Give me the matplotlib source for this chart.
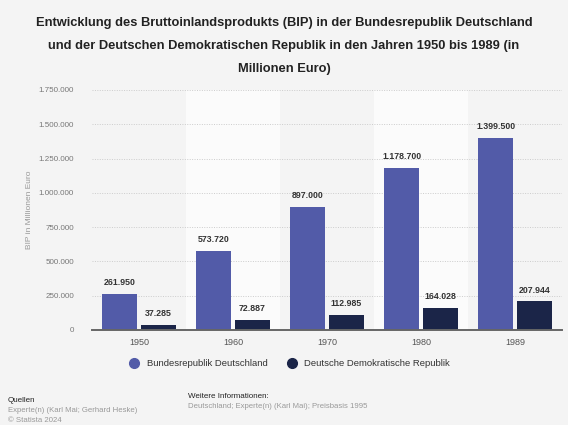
import matplotlib
matplotlib.use("Agg")
import matplotlib.pyplot as plt
from matplotlib.lines import Line2D
import numpy as np

years = ["1950", "1960", "1970", "1980", "1989"]
brd = [261950, 573720, 897000, 1178700, 1399500]
ddr = [37285, 72887, 112985, 164028, 207944]
series_names = ["Bundesrepublik Deutschland", "Deutsche Demokratische Republik"]
yticks = [0, 250000, 500000, 750000, 1000000, 1250000, 1500000, 1750000]

c_brd = "#525ba8"
c_ddr = "#1b2548"
bg = "#f4f4f4"

plt.rcParams["font.family"] = ["Liberation Sans", "DejaVu Sans"]


def de_fmt(v):
    return f"{v:,.0f}".replace(",", ".")


fig = plt.figure(figsize=(5.68, 4.25), dpi=100, facecolor=bg)
ax = fig.add_axes([92 / 568, 95 / 425, 470 / 568, 240 / 425])
ax.set_facecolor(bg)

x = np.arange(len(years))
w = 0.37
off = 0.205

# alternating column bands
for i in x:
    if i % 2 == 1:
        ax.axvspan(i - 0.5, i + 0.5, color="#fbfbfb", zorder=0, lw=0)

ax.bar(x - off, brd, width=w, color=c_brd, zorder=3)
ax.bar(x + off, ddr, width=w, color=c_ddr, zorder=3)

for xs, vals in ((x - off, brd), (x + off, ddr)):
    for xi, v in zip(xs, vals):
        ax.annotate(de_fmt(v), (xi, v), xytext=(0, 5), textcoords="offset points",
                    ha="center", va="bottom", fontsize=6.3, fontweight="bold",
                    color="#333333")

ax.set_xlim(-0.5, len(years) - 0.5)
ax.set_ylim(0, 1750000)
ax.set_yticks(yticks)
ax.set_yticklabels([de_fmt(t) for t in yticks], fontsize=5.8, color="#777777")
ax.set_xticks(x)
ax.set_xticklabels(years, fontsize=6.5, color="#555555")
ax.tick_params(axis="y", length=0, pad=13)
ax.tick_params(axis="x", length=0, pad=6)
ax.grid(axis="y", linestyle=(0, (1, 1.5)), color="#cccccc", lw=0.7, zorder=1)
for s in ["top", "right", "left"]:
    ax.spines[s].set_visible(False)
ax.spines["bottom"].set_color("#666666")
ax.spines["bottom"].set_linewidth(1.4)
ax.spines["bottom"].set_zorder(4)
ax.set_ylabel("BIP in Millionen Euro", fontsize=6, color="#999999")
ax.yaxis.set_label_coords((33 - 92) / 470, 0.5)

fig.text(0.5, 1 - 17 / 425,
         "Entwicklung des Bruttoinlandsprodukts (BIP) in der Bundesrepublik Deutschland\n"
         "und der Deutschen Demokratischen Republik in den Jahren 1950 bis 1989 (in\n"
         "Millionen Euro)",
         ha="center", va="top", fontsize=9.25, fontweight="bold", color="#222222",
         linespacing=2.2)

# legend
handles = [Line2D([], [], marker="o", ls="", markersize=7, color=c_brd),
           Line2D([], [], marker="o", ls="", markersize=7, color=c_ddr)]
fig.legend(handles, series_names, loc="center", bbox_to_anchor=(287.5 / 568, 1 - 364 / 425),
           ncol=2, frameon=False, fontsize=6.8, handletextpad=0.3, columnspacing=1.6,
           labelcolor="#333333")

# footer
fig.text(8 / 568, 1 - 400 / 425, "Quellen", fontsize=5.8, color="#222222", va="center")
fig.text(8 / 568, 1 - 410 / 425, "Experte(n) (Karl Mai; Gerhard Heske)", fontsize=5.6,
         color="#999999", va="center")
fig.text(8 / 568, 1 - 420 / 425, "© Statista 2024", fontsize=5.6, color="#999999", va="center")
fig.text(188 / 568, 1 - 397 / 425, "Weitere Informationen:", fontsize=5.8, color="#222222",
         va="center")
fig.text(188 / 568, 1 - 407 / 425, "Deutschland; Experte(n) (Karl Mai); Preisbasis 1995",
         fontsize=5.6, color="#999999", va="center")

fig.savefig("out.png", dpi=100, facecolor=bg)
